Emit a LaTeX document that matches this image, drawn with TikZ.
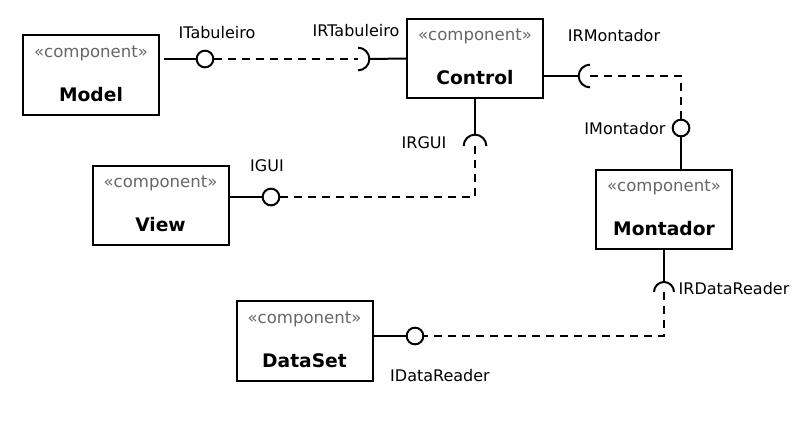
\documentclass[tikz,border=0pt]{standalone}
\usepackage{fontspec}
\setmainfont{DejaVu Sans}
\usepackage{tikz}
\usetikzlibrary{calc, positioning}

\definecolor{stereogray}{HTML}{666666}

\tikzset{
        comp/.style={draw, line width=1.5pt, minimum width=102pt, minimum height=59.5pt, inner sep=0pt},
        stereo/.style={text=stereogray, font=\fontsize{12.4}{14}\selectfont},
        cname/.style={font=\fontsize{14}{16}\selectfont\bfseries},
        ball/.style={draw, circle, line width=1.5pt, fill=white, minimum size=12.5pt, inner sep=0pt},
        lbl/.style={font=\fontsize{12}{14}\selectfont},
        wire/.style={line width=1.5pt},
        dwire/.style={line width=1.5pt, dash pattern=on 6pt off 4.5pt},
}

\begin{document}
\begin{tikzpicture}[x=0.75pt, y=-0.75pt]
        \useasboundingbox (0,0) rectangle (801,436);

        % components
        \node[comp] (model) at (91,75) {};
        \node[comp] (control) at (475,58.5) {};
        \node[comp] (view) at (160.5,205.5) {};
        \node[comp] (montador) at (664,209.5) {};
        \node[comp] (dataset) at (304.5,341) {};

        \foreach \c/\t in {model/Model, control/Control, view/View, montador/Montador, dataset/DataSet} {
                \node[stereo] at ($(\c.north)+(0,19)$) {«component»};
                \node[cname] at ($(\c.north)+(0,60)$) {\t};
        }

        % provided interfaces
        \node[ball] (itab) at (205,59) {};
        \node[ball] (igui) at (271,197) {};
        \node[ball] (imont) at (681,128) {};
        \node[ball] (idata) at (415,336) {};

        % required interfaces
        \coordinate (irtab) at (358,59);
        \coordinate (irgui) at (475,146);
        \coordinate (irmont) at (590,76);
        \coordinate (irdata) at (664,292);

        \draw[wire] ([shift={(-90:8.5pt)}]irtab) arc[start angle=-90, end angle=90, radius=8.5pt];
        \draw[wire] ([shift={(0:8.5pt)}]irgui) arc[start angle=0, end angle=180, radius=8.5pt];
        \draw[wire] ([shift={(90:8.5pt)}]irmont) arc[start angle=90, end angle=270, radius=8.5pt];
        \draw[wire] ([shift={(0:7.5pt)}]irdata) arc[start angle=0, end angle=180, radius=7.5pt];

        % solid links
        \draw[wire] (itab.west) -- ++(-32,0);
        \draw[wire] (igui.west) -- (igui.west -| view.east);
        \draw[wire] (imont.south) -- (imont.south |- montador.north);
        \draw[wire] (idata.west) -- (idata.west -| dataset.east);
        \draw[wire] ([shift={(0:8.5pt)}]irtab) -- (control.west);
        \draw[wire] (control.south) -- ([shift={(90:8.5pt)}]irgui);
        \draw[wire] ([shift={(180:8.5pt)}]irmont) -- (control.east |- irmont);
        \draw[wire] (montador.south) -- ([shift={(90:7.5pt)}]irdata);

        % dashed links
        \draw[dwire] (itab.east) -- (irtab);
        \draw[dwire] (irgui) |- (igui.east);
        \draw[dwire] (irmont) -| (imont.north);
        \draw[dwire] (irdata) |- (idata.east);

        % labels
        \node[lbl] at (217,33) {ITabuleiro};
        \node[lbl] at (356,31) {IRTabuleiro};
        \node[lbl] at (614,36) {IRMontador};
        \node[lbl] at (424,143) {IRGUI};
        \node[lbl] at (625,129) {IMontador};
        \node[lbl] at (267,166) {IGUI};
        \node[lbl] at (734,289) {IRDataReader};
        \node[lbl] at (440,376) {IDataReader};
\end{tikzpicture}
\end{document}
